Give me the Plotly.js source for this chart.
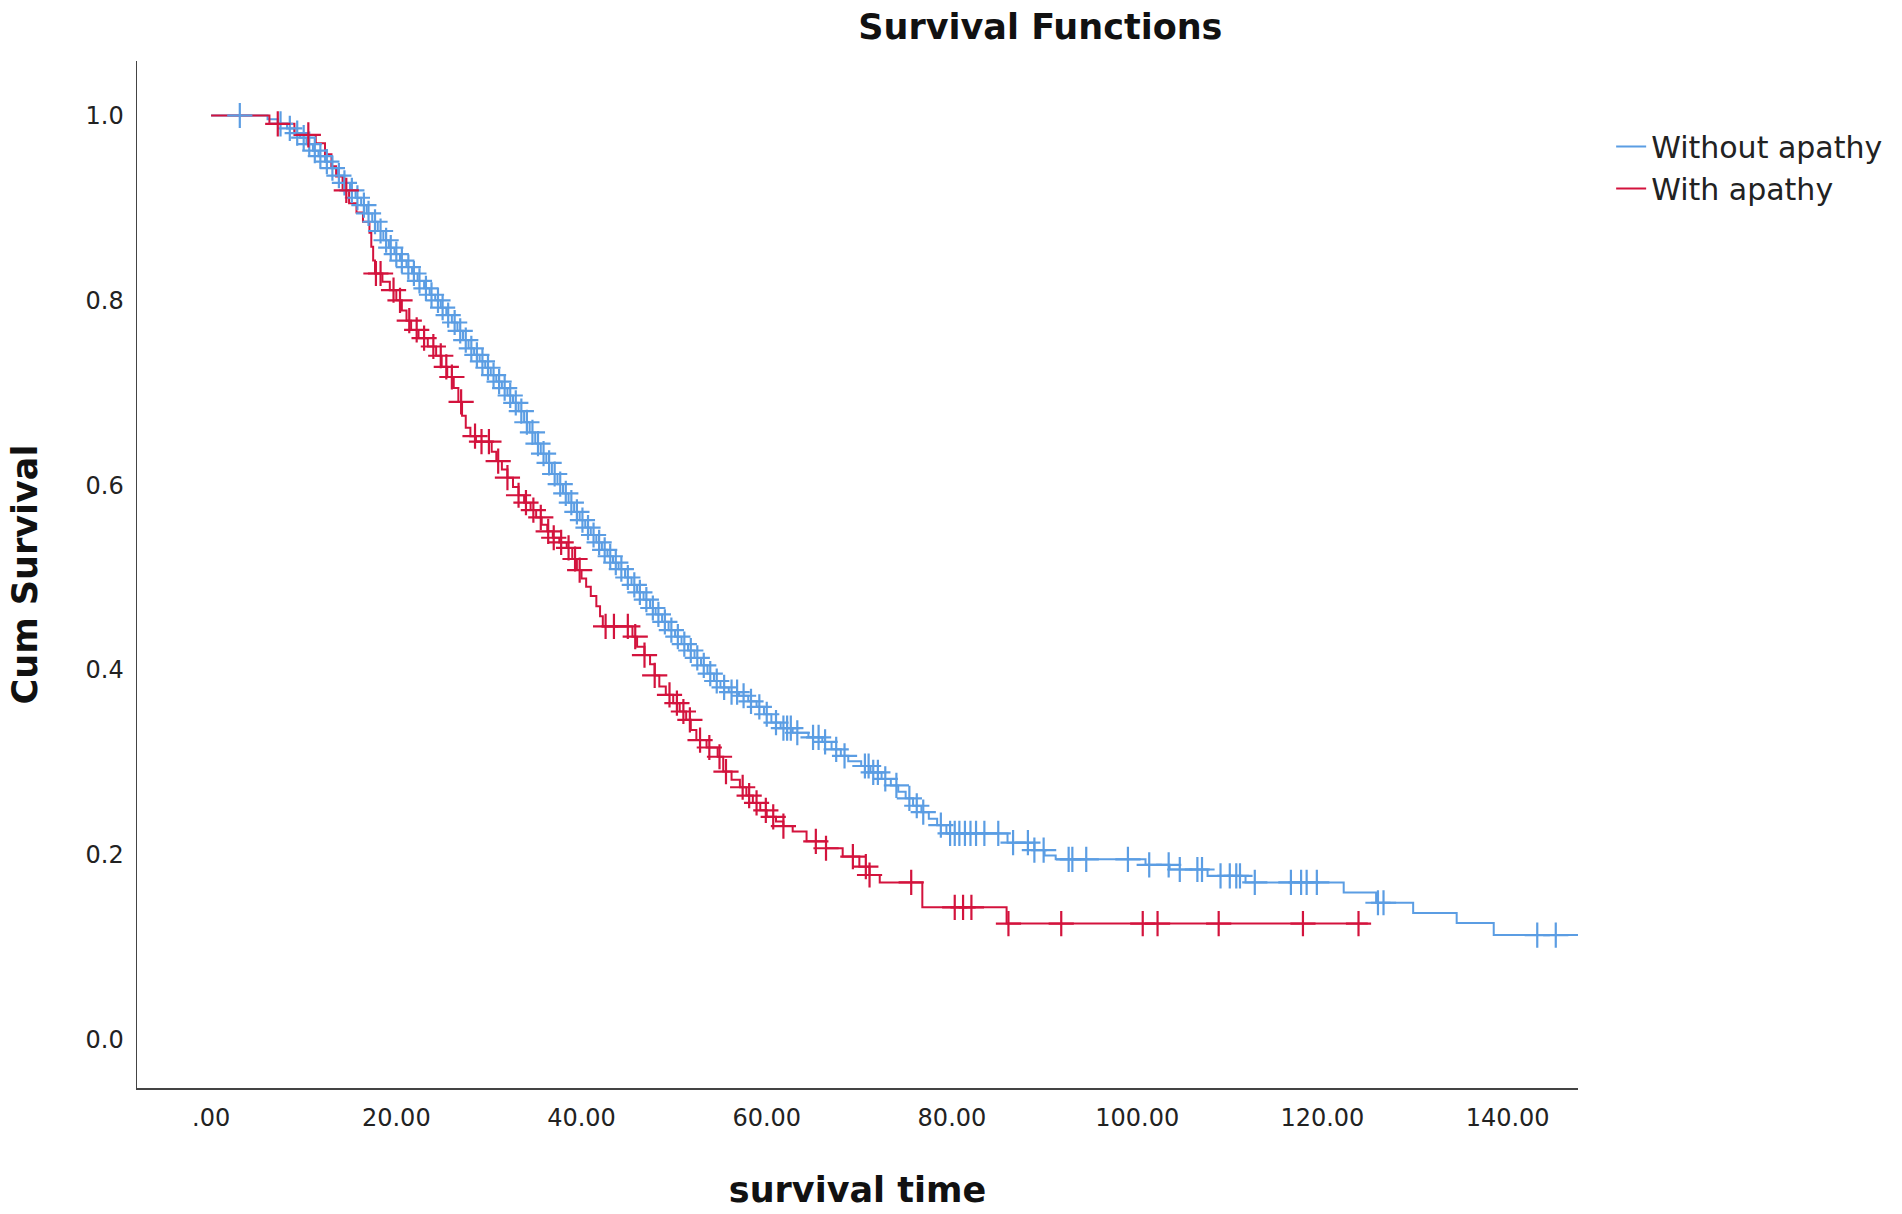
<!DOCTYPE html>
<html>
<head>
<meta charset="utf-8">
<script src="https://cdn.plot.ly/plotly-3.0.1.min.js"></script>
<style>
  html, body { margin: 0; padding: 0; background: #fff; }
  #chart { width: 1902px; height: 1214px; }
</style>
</head>
<body>
<div id="chart"></div>
<script>
// Kaplan-Meier steps: time of each drop and survival after it
const withoutTimes = [0, 6.1, 7.2, 8.2, 9.0, 9.6, 10.3, 11.0, 11.6, 12.3, 13.0, 13.6, 14.3, 15.0, 15.6, 16.2, 16.8, 17.4, 18.0, 18.6, 19.2, 19.8, 20.4, 21.1, 21.7, 22.3, 23.0, 23.6, 24.2, 24.8, 25.4, 26.0, 26.6, 27.2, 27.8, 28.4, 29.0, 29.6, 30.2, 30.8, 31.4, 32.0, 32.6, 33.2, 33.8, 34.4, 35.0, 35.6, 36.2, 36.8, 37.4, 38.0, 38.6, 39.2, 39.8, 40.4, 41.0, 41.6, 42.2, 42.8, 43.4, 44.0, 44.7, 45.4, 46.0, 46.7, 47.4, 48.0, 48.7, 49.4, 50.1, 50.8, 51.5, 52.2, 52.9, 53.6, 54.3, 55.0, 55.9, 57.0, 58.0, 58.9, 59.7, 60.5, 61.5, 62.8, 64.5, 66.0, 67.0, 68.0, 68.8, 70.2, 71.2, 72.4, 73.4, 74.2, 75.0, 75.8, 76.7, 77.5, 78.4, 79.4, 86.0, 88.9, 90.0, 91.2, 100.9, 103.5, 107.6, 111.7, 122.3, 125.8, 129.8, 134.5, 138.5, 147.8];
const withoutSurv = [1.0, 0.996, 0.991, 0.986, 0.981, 0.976, 0.969, 0.962, 0.956, 0.950, 0.943, 0.935, 0.927, 0.919, 0.911, 0.903, 0.894, 0.885, 0.875, 0.865, 0.857, 0.850, 0.843, 0.836, 0.829, 0.821, 0.813, 0.806, 0.800, 0.792, 0.784, 0.776, 0.767, 0.757, 0.748, 0.741, 0.734, 0.727, 0.719, 0.712, 0.705, 0.697, 0.689, 0.680, 0.668, 0.657, 0.645, 0.634, 0.624, 0.612, 0.601, 0.591, 0.581, 0.571, 0.562, 0.554, 0.546, 0.538, 0.530, 0.523, 0.516, 0.509, 0.500, 0.492, 0.484, 0.476, 0.467, 0.460, 0.452, 0.443, 0.436, 0.428, 0.421, 0.413, 0.405, 0.396, 0.388, 0.381, 0.376, 0.372, 0.366, 0.360, 0.352, 0.343, 0.337, 0.332, 0.327, 0.322, 0.314, 0.307, 0.301, 0.296, 0.289, 0.282, 0.275, 0.268, 0.261, 0.253, 0.246, 0.239, 0.232, 0.223, 0.213, 0.205, 0.199, 0.195, 0.189, 0.184, 0.177, 0.170, 0.159, 0.148, 0.137, 0.126, 0.113, 0.113];
const withoutCensored = [3.1, 7.5, 8.5, 9.3, 10.0, 10.6, 11.2, 11.8, 12.5, 13.1, 13.8, 14.4, 15.2, 15.8, 16.5, 17.0, 17.7, 18.3, 18.9, 19.4, 20.0, 20.6, 21.3, 21.9, 22.5, 23.2, 23.8, 24.5, 25.0, 25.6, 26.3, 26.9, 27.5, 28.1, 28.7, 29.3, 29.9, 30.5, 31.1, 31.7, 32.3, 32.9, 33.5, 34.1, 34.7, 35.3, 35.9, 36.5, 37.1, 37.7, 38.3, 38.9, 39.5, 40.1, 40.7, 41.3, 41.9, 42.5, 43.1, 43.7, 44.3, 45.0, 45.7, 46.3, 47.0, 47.7, 48.3, 49.0, 49.7, 50.4, 51.1, 51.8, 52.5, 53.2, 53.9, 54.6, 55.4, 56.2, 56.8, 57.5, 58.3, 59.2, 60.0, 61.0, 61.8, 62.2, 62.6, 63.3, 65.0, 65.6, 66.3, 67.5, 68.4, 70.6, 71.0, 71.5, 72.0, 72.8, 74.0, 75.4, 76.2, 76.9, 78.8, 79.8, 80.3, 80.8, 81.4, 82.0, 82.6, 83.5, 85.0, 86.6, 88.2, 88.9, 89.9, 92.6, 93.0, 94.5, 99.0, 101.3, 103.4, 104.6, 106.5, 107.0, 109.0, 110.0, 110.7, 111.1, 112.7, 116.6, 117.7, 118.3, 119.4, 126.0, 126.6, 143.2, 145.2];

const withTimes = [0, 6.3, 9.0, 11.3, 12.3, 13.0, 13.5, 14.2, 14.9, 15.7, 16.4, 17.1, 17.3, 17.5, 17.7, 18.5, 19.3, 20.0, 20.6, 21.1, 21.6, 22.4, 23.4, 24.3, 24.9, 25.5, 26.2, 26.7, 27.1, 27.5, 28.0, 28.6, 30.3, 30.8, 31.4, 32.0, 32.6, 33.2, 33.8, 34.5, 35.1, 35.7, 36.3, 36.9, 37.6, 38.4, 39.0, 39.5, 40.0, 40.5, 41.0, 41.6, 42.0, 42.3, 45.5, 46.0, 46.8, 47.4, 47.9, 48.4, 49.1, 49.9, 50.6, 51.3, 51.8, 52.4, 53.5, 54.7, 55.3, 56.2, 57.1, 57.8, 58.5, 59.3, 60.0, 61.0, 61.8, 62.8, 64.3, 66.4, 68.2, 70.0, 71.1, 72.2, 76.8, 85.9, 124.9];
const withSurv = [1.0, 0.991, 0.979, 0.970, 0.958, 0.945, 0.934, 0.919, 0.905, 0.895, 0.885, 0.873, 0.858, 0.843, 0.829, 0.820, 0.811, 0.800, 0.789, 0.778, 0.768, 0.759, 0.750, 0.740, 0.728, 0.717, 0.705, 0.690, 0.675, 0.662, 0.653, 0.647, 0.636, 0.626, 0.617, 0.608, 0.598, 0.589, 0.581, 0.573, 0.565, 0.557, 0.550, 0.543, 0.538, 0.532, 0.520, 0.508, 0.499, 0.490, 0.480, 0.469, 0.458, 0.447, 0.436, 0.425, 0.416, 0.406, 0.394, 0.382, 0.373, 0.364, 0.355, 0.346, 0.335, 0.324, 0.316, 0.306, 0.290, 0.281, 0.273, 0.264, 0.256, 0.248, 0.241, 0.236, 0.231, 0.225, 0.2145, 0.207, 0.198, 0.187, 0.178, 0.170, 0.143, 0.1255, 0.1255];
const withCensored = [7.2, 10.5, 14.6, 17.8, 18.3, 19.7, 20.4, 21.4, 22.2, 23.0, 24.0, 24.8, 25.4, 26.0, 27.0, 28.5, 29.2, 30.0, 31.0, 32.0, 33.2, 34.0, 34.8, 35.6, 36.4, 37.0, 37.8, 38.6, 39.3, 39.8, 42.6, 43.5, 45.0, 45.8, 46.8, 47.9, 49.5, 50.3, 51.0, 51.7, 52.8, 53.8, 54.9, 55.6, 57.4, 58.1, 58.9, 59.9, 60.7, 61.8, 65.3, 66.4, 69.3, 70.7, 71.1, 75.6, 80.3, 81.2, 82.1, 86.1, 91.8, 100.6, 102.2, 108.8, 117.9, 123.9];

const xTickVals = [0, 20, 40, 60, 80, 100, 120, 140];
const xTickText = ['.00', '20.00', '40.00', '60.00', '80.00', '100.00', '120.00', '140.00'];
const yTickVals = [0, 0.2, 0.4, 0.6, 0.8, 1.0];
const yTickText = ['0.0', '0.2', '0.4', '0.6', '0.8', '1.0'];

const blue = '#5b9de3';
const red = '#d3133d';

// survival value of a step curve at time t
function survAt(times, surv, t) {
    let v = surv[0];
    for (let i = 0; i < times.length; i++) {
        if (times[i] <= t) v = surv[i];
    }
    return v;
}

function censorTrace(times, surv, cens, color) {
    return {
        x: cens,
        y: cens.map(t => survAt(times, surv, t)),
        type: 'scatter',
        mode: 'markers',
        showlegend: false,
        hoverinfo: 'skip',
        marker: { symbol: 'cross-thin', size: 18, line: { color: color, width: 2.2 } }
    };
}

const data = [
    {
        x: withoutTimes, y: withoutSurv, name: 'Without apathy',
        type: 'scatter', mode: 'lines',
        line: { shape: 'hv', color: blue, width: 2 }
    },
    {
        x: withTimes, y: withSurv, name: 'With apathy',
        type: 'scatter', mode: 'lines',
        line: { shape: 'hv', color: red, width: 2 }
    },
    censorTrace(withoutTimes, withoutSurv, withoutCensored, blue),
    censorTrace(withTimes, withSurv, withCensored, red)
];

const layout = {
    width: 1902,
    height: 1214,
    margin: { l: 137, r: 324, t: 61, b: 126 },
    paper_bgcolor: '#fff',
    plot_bgcolor: '#fff',
    font: { family: 'DejaVu Sans, sans-serif', color: '#222', size: 24 },
    title: {
        text: '<b>Survival Functions</b>',
        font: { size: 35, color: '#111' },
        x: 0.547, xanchor: 'center',
        y: 0.978, yanchor: 'middle'
    },
    xaxis: {
        range: [-8, 147.6],
        tickvals: xTickVals,
        ticktext: xTickText,
        ticks: '',
        ticklabelstandoff: 7,
        showgrid: false,
        zeroline: false,
        showline: true,
        linecolor: '#444',
        linewidth: 2,
        mirror: false,
        title: { text: '<b>survival time</b>', font: { size: 35, color: '#111' }, standoff: 47 }
    },
    yaxis: {
        range: [-0.0525, 1.059],
        tickvals: yTickVals,
        ticktext: yTickText,
        ticks: '',
        ticklabelstandoff: 7,
        showgrid: false,
        zeroline: false,
        showline: true,
        linecolor: '#444',
        linewidth: 1.5,
        title: { text: '<b>Cum Survival</b>', font: { size: 35, color: '#111' }, standoff: 37 }
    },
    showlegend: true,
    legend: {
        x: 1.023, xanchor: 'left',
        y: 0.942, yanchor: 'top',
        font: { size: 30, color: '#222' },
        bgcolor: 'rgba(0,0,0,0)',
        tracegroupgap: 0
    }
};

Plotly.newPlot('chart', data, layout, { displayModeBar: false, staticPlot: true });
</script>
</body>
</html>
